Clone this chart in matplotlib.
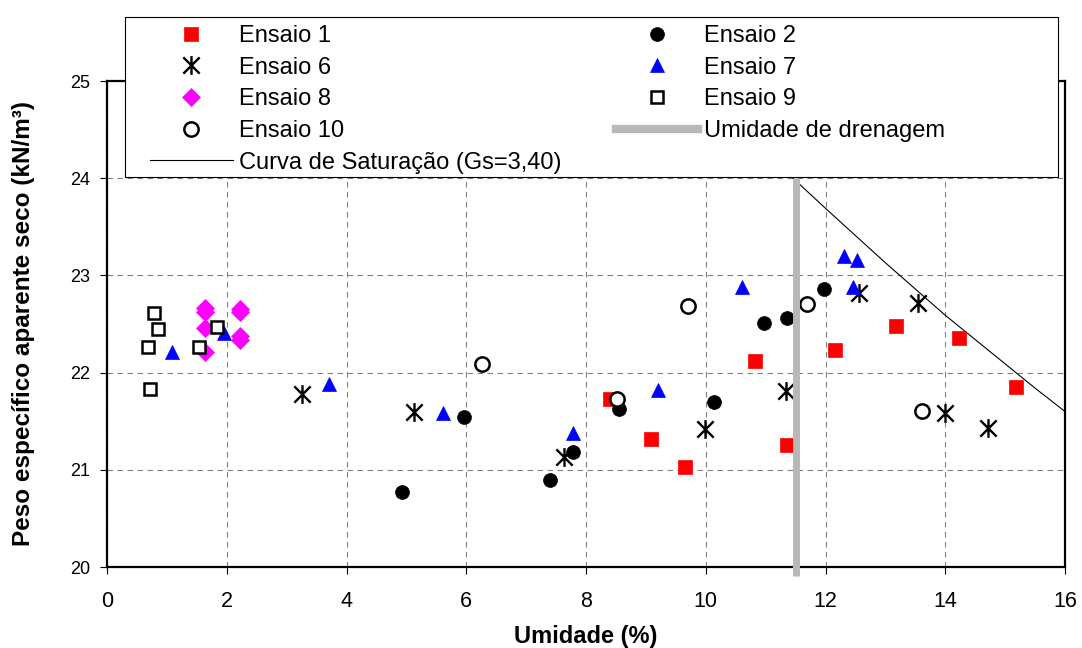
import matplotlib
matplotlib.use('Agg')
import matplotlib.pyplot as plt
from matplotlib.path import Path
from matplotlib.patches import Rectangle
from matplotlib.lines import Line2D

plt.rcParams['font.family'] = ['Liberation Sans', 'DejaVu Sans']

# ---------------- data ----------------
e1_w = [8.40, 9.08, 9.65, 10.82, 11.36, 12.16, 13.18, 14.23, 15.18]
e1_g = [21.73, 21.32, 21.03, 22.12, 21.26, 22.23, 22.48, 22.36, 21.85]

e2_w = [4.93, 5.97, 7.40, 7.78, 8.55, 10.13, 10.98, 11.36, 11.98]
e2_g = [20.77, 21.54, 20.90, 21.18, 21.63, 21.70, 22.51, 22.56, 22.86]

e6_w = [3.25, 5.13, 7.64, 9.99, 11.34, 12.56, 13.55, 14.00, 14.72]
e6_g = [21.78, 21.59, 21.13, 21.42, 21.81, 22.82, 22.72, 21.58, 21.43]

e7_w = [1.08, 1.95, 3.71, 5.61, 7.79, 9.21, 10.60, 12.31, 12.52, 12.46]
e7_g = [22.21, 22.41, 21.88, 21.58, 21.38, 21.82, 22.88, 23.20, 23.16, 22.88]

e8_w = [1.64, 1.64, 2.22, 2.22, 1.64, 2.22, 2.22, 1.64]
e8_g = [22.66, 22.62, 22.65, 22.62, 22.46, 22.38, 22.34, 22.21]

e9_w = [0.79, 0.85, 0.69, 1.53, 1.84, 0.71]
e9_g = [22.61, 22.45, 22.26, 22.26, 22.47, 21.83]

e10_w = [6.26, 8.52, 9.71, 11.69, 13.62]
e10_g = [22.09, 21.73, 22.69, 22.71, 21.61]

sat_w = [11.20, 11.44, 12.00, 12.41, 13.00, 13.50, 14.00, 14.50, 15.00, 15.50, 16.00, 16.20]
sat_g = [24.15, 24.01, 23.69, 23.46, 23.13, 22.86, 22.59, 22.34, 22.09, 21.84, 21.60, 21.51]

drain_w = 11.5
drain_g = [19.91, 24.0]

x_ticks = [0, 2, 4, 6, 8, 10, 12, 14, 16]
y_ticks = [20, 21, 22, 23, 24, 25]

labels = ['Ensaio 1', 'Ensaio 6', 'Ensaio 8', 'Ensaio 10',
          'Curva de Saturação (Gs=3,40)',
          'Ensaio 2', 'Ensaio 7', 'Ensaio 9', 'Umidade de drenagem']

# ---------------- figure ----------------
W, H = 1082, 648
fig = plt.figure(figsize=(W / 100, H / 100), dpi=100)
ax = fig.add_axes([107 / W, 1 - 567 / H, 958 / W, 486 / H])

star = Path([(-1, -1), (1, 1), (-1, 1), (1, -1), (0, -1.15), (0, 1.15)],
            [Path.MOVETO, Path.LINETO, Path.MOVETO, Path.LINETO,
             Path.MOVETO, Path.LINETO])

h1, = ax.plot(e1_w, e1_g, ls='none', marker='s', ms=9.8, mfc='#ff0000',
              mec='#ff0000', mew=0.5, zorder=4)
h2, = ax.plot(e2_w, e2_g, ls='none', marker='o', ms=10, mfc='black',
              mec='black', mew=0.5, zorder=4)
h6, = ax.plot(e6_w, e6_g, ls='none', marker=star, ms=13.5, mfc='none',
              mec='black', mew=1.7, zorder=4)
h7, = ax.plot(e7_w, e7_g, ls='none', marker='^', ms=10, mfc='#0000ff',
              mec='#0000ff', mew=0.5, zorder=4)
h8, = ax.plot(e8_w, e8_g, ls='none', marker='D', ms=9.5, mfc='#ff00ff',
              mec='#ff00ff', mew=0.5, zorder=4)
h9, = ax.plot(e9_w, e9_g, ls='none', marker='s', ms=8.3, mfc='white',
              mec='black', mew=1.8, zorder=4)
h10, = ax.plot(e10_w, e10_g, ls='none', marker='o', ms=10.3, mfc='white',
               mec='black', mew=1.8, zorder=4)

hs, = ax.plot(sat_w, sat_g, color='black', lw=0.8, zorder=3)
hd, = ax.plot([drain_w, drain_w], drain_g, color='#b8b8b8', lw=5,
              solid_capstyle='butt', clip_on=False, zorder=6)

ax.set_xlim(0, 16)
ax.set_ylim(20, 25)
ax.set_xticks(x_ticks)
ax.set_yticks(y_ticks)
ax.set_axisbelow(True)
ax.grid(True, color='#808080', linestyle=(0, (5, 4)), linewidth=0.8)

for s in ax.spines.values():
    s.set_linewidth(1.6)
    s.set_color('black')

ax.tick_params(axis='both', direction='out', length=5, width=0.8,
               color='black')
ax.tick_params(axis='x', labelsize=15.5, pad=12)
ax.tick_params(axis='y', labelsize=13, pad=7)

ax.set_xlabel('Umidade (%)', fontsize=17, fontweight='bold')
ax.set_ylabel('Peso específico aparente seco (kN/m³)', fontsize=17.5,
              fontweight='bold')
ax.xaxis.set_label_coords(0.5, -0.119)
ax.yaxis.set_label_coords(-0.075, 0.5)

# legend frame
rect = Rectangle((125 / W, 1 - 177 / H), 933 / W, 160 / H,
                 transform=fig.transFigure, facecolor='white',
                 edgecolor='black', lw=0.8, zorder=3)
fig.add_artist(rect)

hd_leg = Line2D([], [], color='#b8b8b8', lw=6)
handles = [h1, h6, h8, h10, hs, h2, h7, h9, hd_leg]
leg = fig.legend(handles, labels, loc='upper left',
                 bbox_to_anchor=(150 / W, 1 - 25 / H),
                 bbox_transform=fig.transFigure, ncol=2, frameon=False,
                 fontsize=17, borderpad=0, borderaxespad=0,
                 handlelength=3.5, handletextpad=0.25, columnspacing=2.32,
                 labelspacing=0.41)
leg.set_zorder(5)

fig.savefig('out.png', dpi=100)
